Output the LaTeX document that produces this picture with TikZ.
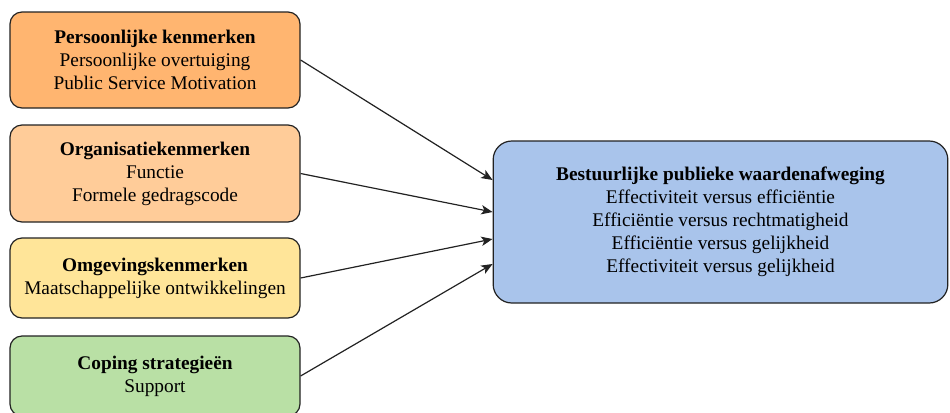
\documentclass[tikz,border=0pt]{standalone}
\usepackage{fontspec}
\setmainfont{Liberation Serif}
\usetikzlibrary{arrows.meta,calc}
\definecolor{fillA}{HTML}{FFB570}
\definecolor{fillB}{HTML}{FFCC99}
\definecolor{fillC}{HTML}{FFE599}
\definecolor{fillD}{HTML}{B9E0A5}
\definecolor{fillE}{HTML}{A9C4EB}
\definecolor{edge}{HTML}{222222}
\tikzset{
  factor/.style={draw=edge, line width=0.9pt, rounded corners=9pt, minimum width=217.5pt,
    align=center, font=\fontsize{14.5}{17.25}\selectfont, inner sep=0pt},
  outcome/.style={factor, minimum width=341pt, minimum height=121.5pt, rounded corners=14pt},
  link/.style={draw=edge, line width=0.9pt, -{Stealth[length=8.5pt,width=7pt,inset=2.2pt]}}
}
\begin{document}
\begin{tikzpicture}[x=0.75pt,y=-0.75pt]
\useasboundingbox (0,0) rectangle (950,412);
\clip (0,0) rectangle (950,412);
% influencing factors
\node[factor, fill=fillA, minimum height=72pt] (pers) at (155,60)
  {\textbf{Persoonlijke kenmerken}\\Persoonlijke overtuiging\\Public Service Motivation};
\node[factor, fill=fillB, minimum height=72.75pt] (org) at (155,173.5)
  {\textbf{Organisatiekenmerken}\\Functie\\Formele gedragscode};
\node[factor, fill=fillC, minimum height=60pt] (omg) at (155,278)
  {\textbf{Omgevingskenmerken}\\Maatschappelijke ontwikkelingen};
\node[factor, fill=fillD, minimum height=60pt] (cop) at (155,376)
  {\textbf{Coping strategieën}\\Support};
% weighing of public values
\node[outcome, fill=fillE] (afw) at (720.5,222)
  {\textbf{Bestuurlijke publieke waardenafweging}\\Effectiviteit versus efficiëntie\\Efficiëntie versus rechtmatigheid\\Efficiëntie versus gelijkheid\\Effectiviteit versus gelijkheid};
% arrow targets on the left side of the outcome box
\coordinate (t1) at ([yshift=31.5pt]afw.west);
\coordinate (t2) at ([yshift=7.5pt]afw.west);
\coordinate (t3) at ([yshift=-12.75pt]afw.west);
\coordinate (t4) at ([yshift=-31.5pt]afw.west);
\draw[link] (pers.east) -- (t1);
\draw[link] (org.east) -- (t2);
\draw[link] (omg.east) -- (t3);
\draw[link] (cop.east) -- (t4);
\end{tikzpicture}
\end{document}
